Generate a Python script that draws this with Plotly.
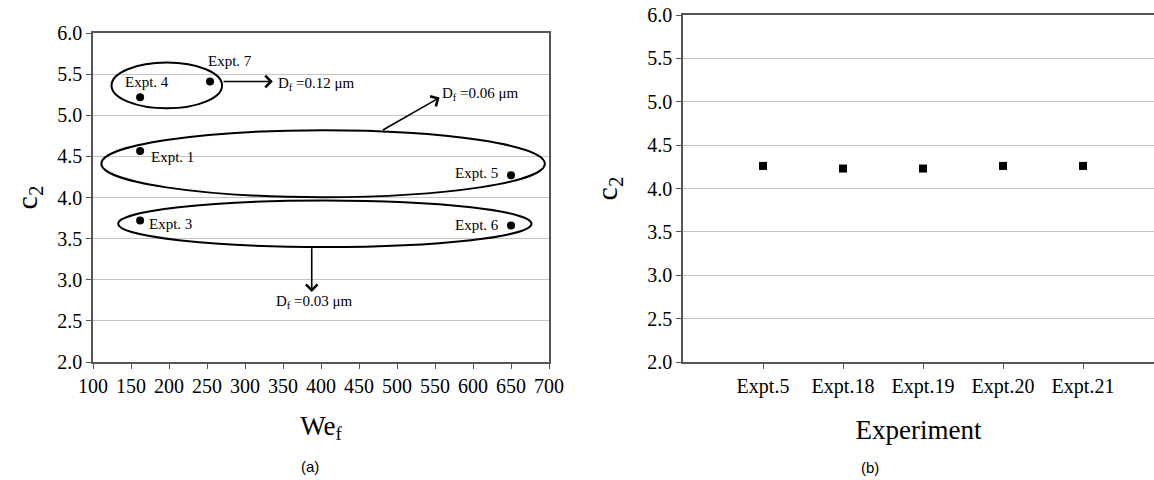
import plotly.graph_objects as go

# ---- data: panel (a) ----
expt_a = ["Expt. 4", "Expt. 7", "Expt. 1", "Expt. 5", "Expt. 3", "Expt. 6"]
we_f = [162, 254, 162, 650, 162, 650]
c2_a = [5.22, 5.41, 4.565, 4.27, 3.72, 3.66]

# ---- data: panel (b) ----
expt_b = ["Expt.5", "Expt.18", "Expt.19", "Expt.20", "Expt.21"]
c2_b = [4.26, 4.23, 4.23, 4.26, 4.26]

x_ticks_a = list(range(100, 701, 50))
y_ticks = [2.0, 2.5, 3.0, 3.5, 4.0, 4.5, 5.0, 5.5, 6.0]

SERIF = "Liberation Serif, Times New Roman, serif"
SANS = "Liberation Sans, Arial, sans-serif"
AXC = "#555555"
GRID = "#c4c4c4"

fig = go.Figure()

fig.add_trace(go.Scatter(
    x=we_f, y=c2_a, mode="markers", xaxis="x", yaxis="y",
    marker=dict(symbol="circle", size=8, color="black"),
    showlegend=False, hoverinfo="skip"))

pos_b = list(range(1, len(expt_b) + 1))
fig.add_trace(go.Scatter(
    x=pos_b, y=c2_b, mode="markers", xaxis="x2", yaxis="y2",
    marker=dict(symbol="square", size=8, color="black"),
    showlegend=False, hoverinfo="skip"))

W, H = 1154, 480

fig.update_layout(
    width=W, height=H,
    margin=dict(l=0, r=0, t=0, b=0, autoexpand=False),
    paper_bgcolor="white", plot_bgcolor="white",
    font=dict(family=SERIF, color="black"),
    xaxis=dict(
        domain=[93 / W, 549 / W], range=[100, 700], anchor="y", automargin=False,
        tickmode="array", tickvals=x_ticks_a, ticktext=[str(v) for v in x_ticks_a],
        ticks="outside", ticklen=5, tickcolor=AXC, tickwidth=1,
        showline=True, linecolor=AXC, linewidth=1.5, mirror=True,
        showgrid=False, zeroline=False,
        tickfont=dict(family=SERIF, size=20),
        title=dict(text="We<sub>f</sub>", font=dict(family=SERIF, size=27), standoff=20),
    ),
    yaxis=dict(
        domain=[118 / H, 447 / H], range=[2, 6], anchor="x", automargin=False,
        tickmode="array", tickvals=y_ticks, ticktext=[f"{v:.1f}" for v in y_ticks],
        ticks="outside", ticklen=5, tickcolor=AXC, tickwidth=1,
        showline=True, linecolor=AXC, linewidth=1.5, mirror=True,
        showgrid=True, gridcolor=GRID, gridwidth=1, zeroline=False,
        tickfont=dict(family=SERIF, size=20),
        title=dict(text="c<sub>2</sub>", font=dict(family=SERIF, size=30), standoff=11),
    ),
    xaxis2=dict(
        domain=[683 / W, 1.0], range=[0, (W - 683) / 80.0], anchor="y2", automargin=False,
        tickmode="array", tickvals=pos_b, ticktext=expt_b,
        ticks="outside", ticklen=5, tickcolor=AXC, tickwidth=1,
        showline=True, linecolor=AXC, linewidth=1.5, mirror=True,
        showgrid=False, zeroline=False,
        tickfont=dict(family=SERIF, size=20),
        title=dict(text="Experiment", font=dict(family=SERIF, size=27), standoff=23),
    ),
    yaxis2=dict(
        domain=[118 / H, 465 / H], range=[2, 6], anchor="x2", automargin=False,
        tickmode="array", tickvals=y_ticks, ticktext=[f"{v:.1f}" for v in y_ticks],
        ticks="outside", ticklen=5, tickcolor=AXC, tickwidth=1,
        showline=True, linecolor=AXC, linewidth=1.5, mirror=False,
        showgrid=True, gridcolor=GRID, gridwidth=1, zeroline=False,
        tickfont=dict(family=SERIF, size=20),
        title=dict(text="c<sub>2</sub>", font=dict(family=SERIF, size=30), standoff=21),
    ),
)

# ellipses grouping experiments by droplet diameter (panel a)
ellipses = [
    (124.4, 5.085, 269.8, 5.64),
    (111.0, 4.004, 694.6, 4.817),
    (133.0, 3.398, 677.0, 3.963),
]
for x0, y0, x1, y1 in ellipses:
    fig.add_shape(type="circle", xref="x", yref="y", x0=x0, y0=y0, x1=x1, y1=y1,
                  line=dict(color="black", width=2), layer="above")

# arrows (tail -> head)
arrows = [
    (269.8, 5.41, 336.6, 5.41),
    (479.5, 4.81, 556.0, 5.215),
    (387.8, 3.40, 387.8, 2.85),
]
for ax_, ay_, hx, hy in arrows:
    fig.add_annotation(x=hx, y=hy, ax=ax_, ay=ay_, xref="x", yref="y",
                       axref="x", ayref="y", text="", showarrow=True,
                       arrowhead=4, arrowsize=1.4, arrowwidth=1.6, arrowcolor="black")

# point labels
point_labels = [
    ("Expt. 7", 280.5, 5.66, "center"),
    ("Expt. 4", 171.7, 5.40, "center"),
    ("Expt. 1", 204.0, 4.49, "center"),
    ("Expt. 5", 605.0, 4.30, "center"),
    ("Expt. 3", 202.4, 3.68, "center"),
    ("Expt. 6", 605.0, 3.66, "center"),
]
for t, x, y, xa in point_labels:
    fig.add_annotation(x=x, y=y, xref="x", yref="y", text=t, showarrow=False,
                       xanchor=xa, yanchor="middle", font=dict(family=SERIF, size=15))

diam_labels = [
    ("D<sub>f</sub> =0.12 μm", 340.5, 5.38, "left"),
    ("D<sub>f</sub> =0.06 μm", 556.0, 5.26, "left"),
    ("D<sub>f</sub> =0.03 μm", 391.0, 2.73, "center"),
]
for t, x, y, xa in diam_labels:
    fig.add_annotation(x=x, y=y, xref="x", yref="y", text=t, showarrow=False,
                       xanchor=xa, yanchor="middle", font=dict(family=SERIF, size=15))

# panel captions
fig.add_annotation(x=310 / W, y=1 - 466 / H, xref="paper", yref="paper", text="(a)",
                   showarrow=False, xanchor="center", yanchor="middle",
                   font=dict(family=SANS, size=15))
fig.add_annotation(x=870 / W, y=1 - 467 / H, xref="paper", yref="paper", text="(b)",
                   showarrow=False, xanchor="center", yanchor="middle",
                   font=dict(family=SANS, size=15))

fig.write_html("out.html")
